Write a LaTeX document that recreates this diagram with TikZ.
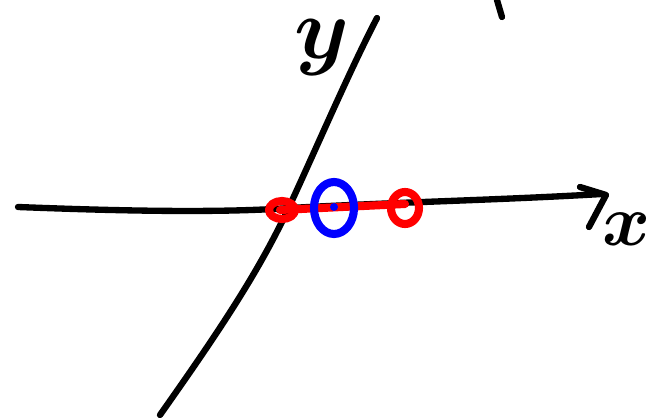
\documentclass[tikz,border=0pt]{standalone}
\usepackage{bm}
\begin{document}
\begin{tikzpicture}[x=0.01cm,y=-0.01cm,
  ink/.style={line width=1.8pt,line cap=round,line join=round},
  redink/.style={ink,red,line width=2.3pt},
  blueink/.style={ink,blue,line width=2.3pt},
  lbl/.style={inner sep=1pt}]
\useasboundingbox[fill=white] (0,0) rectangle (647,418);
% x-axis
\draw[ink] (18,207) .. controls (120,211) and (220,213) .. (290,208)
  .. controls (400,202) and (500,200) .. (602,194);
\draw[ink] (580,187) -- (606,195) -- (589,227);
% y-axis
\draw[ink] (160,415) .. controls (220,330) and (260,270) .. (290,205)
  .. controls (320,140) and (350,70) .. (377,18);
% tick at top
\draw[ink] (497,0) -- (502,17);
% labels
\node[lbl] (ylab) at (322,48) {\fontsize{28}{30}\selectfont $\bm{y}$};
\node[lbl] (xlab) at (627,229) {\fontsize{20}{22}\selectfont $\bm{x}$};
% red
\draw[redink] (280,210) -- (405,204);
\draw[redink] (282,210) ellipse [x radius=13, y radius=9];
\draw[redink] (405,208) ellipse [x radius=14, y radius=16];
% blue
\draw[blueink] (334,208) ellipse [x radius=20, y radius=26];
\fill[blue] (334,207) circle (4);
\end{tikzpicture}
\end{document}
